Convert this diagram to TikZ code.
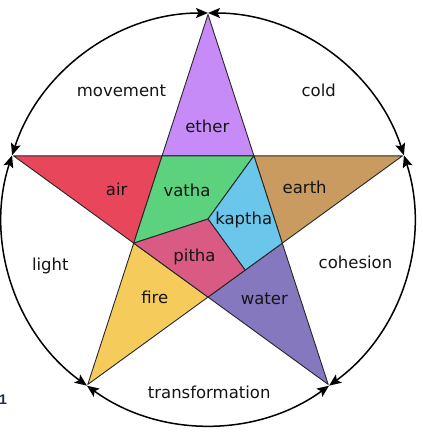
\documentclass[tikz,border=0pt]{standalone}
\usepackage{fontspec}
\setmainfont{DejaVu Sans}
\newfontfamily\onefont{Liberation Sans}
\usetikzlibrary{arrows.meta,calc}
\definecolor{etherc}{HTML}{C68BF7}
\definecolor{airc}{HTML}{E8465B}
\definecolor{vathac}{HTML}{5CD17E}
\definecolor{kapthac}{HTML}{6BC6EC}
\definecolor{earthc}{HTML}{C99B61}
\definecolor{pithac}{HTML}{D95B84}
\definecolor{firec}{HTML}{F5CC5B}
\definecolor{waterc}{HTML}{8678BE}
\definecolor{onec}{HTML}{1C2B4A}
\begin{document}
\begin{tikzpicture}[x=1pt,y=1pt,
  region/.style={draw=black!85, line width=0.9pt, line join=round},
  lbl/.style={anchor=base, inner sep=0pt, font=\fontsize{16.5}{18}\selectfont, text=black!92},
  tip/.style={Stealth[length=12pt,width=10pt,inset=2.5pt]},
  arcarrow/.style={line width=1.5pt, {Stealth[length=12pt,width=10pt,inset=2.5pt]}-{Stealth[length=12pt,width=10pt,inset=2.5pt]}}]
\useasboundingbox (0,0) rectangle (423,-442);
\coordinate (C) at (208,-219);
\foreach \a/\n in {90/T,162/L,234/BL,306/BR,18/R}
  \coordinate (\n) at ([shift={(\a:204.5)}]C);
\foreach \a/\n in {90/T,162/L,234/BL,306/BR,18/R}
  \coordinate (a\n) at ([shift={(\a:206)}]C);
\foreach \a/\n in {54/iUR,126/iUL,198/iL,270/iB,342/iR}
  \coordinate (\n) at ([shift={(\a:78.1)}]C);
\coordinate (M) at ($(iR)!0.5!(iB)$);
% star regions
\filldraw[region, fill=etherc] (T) -- (iUR) -- (iUL) -- cycle;
\filldraw[region, fill=airc] (L) -- (iUL) -- (iL) -- cycle;
\filldraw[region, fill=earthc] (R) -- (iUR) -- (iR) -- cycle;
\filldraw[region, fill=firec] (BL) -- (iL) -- (iB) -- cycle;
\filldraw[region, fill=waterc] (BR) -- (iR) -- (iB) -- cycle;
\filldraw[region, fill=vathac] (iUL) -- (iUR) -- (C) -- (iL) -- cycle;
\filldraw[region, fill=kapthac] (iUR) -- (iR) -- (M) -- (C) -- cycle;
\filldraw[region, fill=pithac] (C) -- (M) -- (iB) -- (iL) -- cycle;
% circle arcs
\draw[arcarrow] (aT) arc[start angle=90, end angle=162, radius=206];
\draw[arcarrow] (aL) arc[start angle=162, end angle=234, radius=206];
\draw[arcarrow] (aBL) arc[start angle=234, end angle=306, radius=206];
\draw[arcarrow] (aBR) arc[start angle=306, end angle=378, radius=206];
\draw[arcarrow] (aR) arc[start angle=18, end angle=90, radius=206];
% labels
\node[lbl] (movement) at (121.5,-96) {movement};
\node[lbl] (cold) at (318.7,-96) {cold};
\node[lbl] (ether) at (207.3,-132) {ether};
\node[lbl] (air) at (116.7,-195) {air};
\node[lbl] (vatha) at (187,-196) {vatha};
\node[lbl] (earth) at (304.7,-193) {earth};
\node[lbl] (kaptha) at (243.8,-224) {kaptha};
\node[lbl] (light) at (50.3,-270) {light};
\node[lbl] (pitha) at (194.5,-261) {pitha};
\node[lbl] (cohesion) at (355.5,-268) {cohesion};
\node[lbl] (fire) at (154.8,-303.5) {fire};
\node[lbl] (water) at (264.3,-304) {water};
\node[lbl] (transformation) at (209.2,-398.5) {transformation};
\node[anchor=base west, inner sep=0pt, text=onec, font=\onefont\bfseries\fontsize{14}{16}\selectfont] (one) at (-1.2,-404) {1};
\end{tikzpicture}
\end{document}
